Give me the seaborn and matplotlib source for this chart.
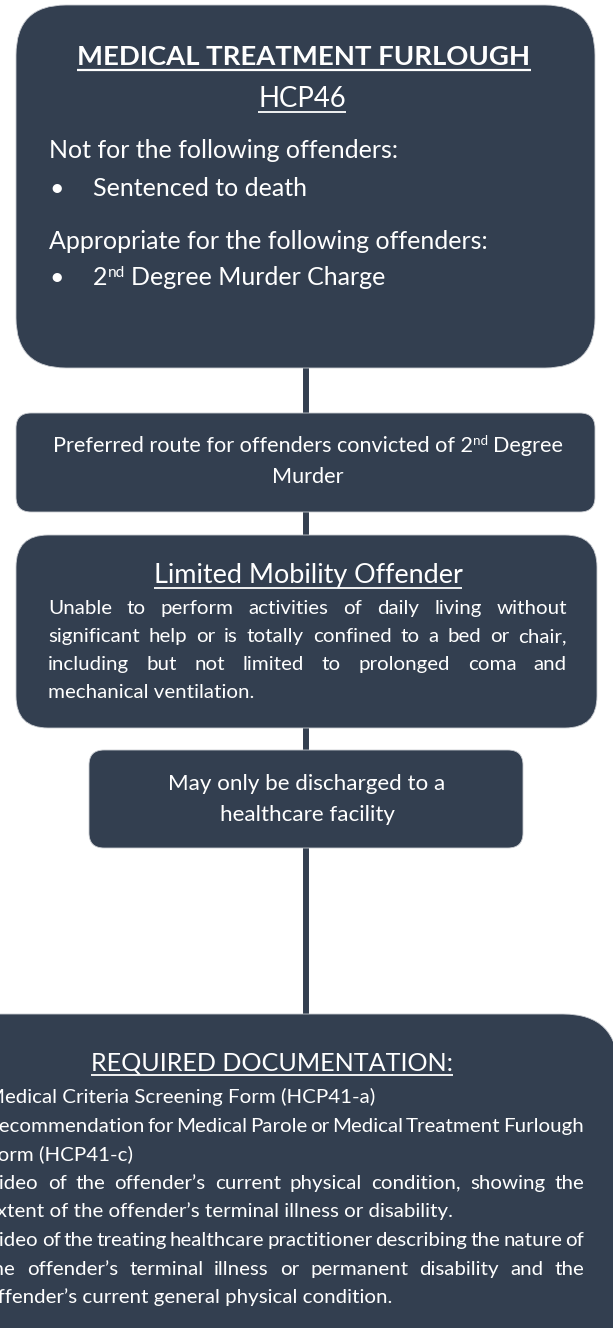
import matplotlib
matplotlib.use("Agg")
import matplotlib.pyplot as plt
from matplotlib.patches import FancyBboxPatch
import seaborn as sns

# ------------------------------
# Content of the flowchart
# ------------------------------
HEADER_TITLE = "MEDICAL TREATMENT FURLOUGH"
HEADER_CODE = "HCP46"
EXCLUDED_LABEL = "Not for the following offenders:"
EXCLUDED = ["Sentenced to death"]
APPROPRIATE_LABEL = "Appropriate for the following offenders:"
APPROPRIATE = [[("2", False), ("nd", True), (" Degree Murder Charge", False)]]

ROUTE_TEXT = [
    [("Preferred route for offenders convicted of 2", False), ("nd", True), (" Degree", False)],
    [("Murder", False)],
]

MOBILITY_TITLE = "Limited Mobility Offender"
MOBILITY_TEXT = [
    "Unable to perform activities of daily living without",
    "significant help or is totally confined to a bed or chair,",
    "including but not limited to prolonged coma and",
    "mechanical ventilation.",
]
MOBILITY_JUSTIFY = [True, True, True, False]

DISCHARGE_TEXT = ["May only be discharged to a", "healthcare facility"]

DOCS_TITLE = "REQUIRED DOCUMENTATION:"
DOCS_TEXT = [
    "Medical Criteria Screening Form (HCP41-a)",
    "Recommendation for Medical Parole or Medical Treatment Furlough",
    "Form (HCP41-c)",
    "Video of the offender\u2019s current physical condition, showing the",
    "extent of the offender\u2019s terminal illness or disability.",
    "Video of the treating healthcare practitioner describing the nature of",
    "the offender\u2019s terminal illness or permanent disability and the",
    "offender\u2019s current general physical condition.",
]
DOCS_JUSTIFY = [False, True, False, True, False, True, True, False]

# ------------------------------
# Layout (pixels, y down)
# ------------------------------
W, H = 613, 1328
NAVY = "#333F50"
INK = "#FFFFFF"
SUP = 0.62

# (left, top, right, bottom, corner radius)
boxes = [
    (16, 5, 595, 368, 50),
    (16, 413, 595, 512, 15),
    (16, 535, 597, 728, 32),
    (89, 750, 523, 848, 15),
    (-60, 1014, 618, 1420, 55),
]

sns.set_theme(style="white")
plt.rcParams["font.family"] = ["Lato", "DejaVu Sans"]

fig = plt.figure(figsize=(W / 100, H / 100), dpi=100)
ax = fig.add_axes([0, 0, 1, 1])
ax.set_xlim(0, W)
ax.set_ylim(H, 0)
ax.set_axis_off()
R = fig.canvas.get_renderer()


def width(s, size, weight="normal"):
    t = ax.text(0, 0, s, fontsize=size, fontweight=weight)
    w = t.get_window_extent(R).width
    t.remove()
    return w


def fit(s, target, weight="normal"):
    return 20 * target / width(s, 20, weight)


def draw_runs(parts, x, y, size, ha="left", weight="normal"):
    sp = width("a a", size, weight) - width("aa", size, weight)
    items = []
    for txt, sup in parts:
        s = size * SUP if sup else size
        gap = sp if txt.startswith(" ") else 0
        txt = txt.strip()
        items.append((txt, s, sup, gap, width(txt, s, weight)))
    total = sum(g + w for _, _, _, g, w in items)
    if ha == "center":
        x -= total / 2
    x0 = x
    for txt, s, sup, gap, w in items:
        x += gap
        dy = size * 100 / 72 * 0.34 if sup else 0
        ax.text(x, y - dy, txt, fontsize=s, fontweight=weight, color=INK,
                ha="left", va="baseline")
        x += w
    return x0, x


def underline(x0, x1, y, lw=1.2):
    ax.plot([x0, x1], [y, y], color=INK, lw=lw, solid_capstyle="butt")


def justify(line, x0, x1, y, size):
    words = line.split()
    ws = [width(w, size) for w in words]
    gap = (x1 - x0 - sum(ws)) / (len(words) - 1)
    x = x0
    for w, wd in zip(words, ws):
        ax.text(x, y, w, fontsize=size, color=INK, ha="left", va="baseline")
        x += wd + gap


# connector behind the boxes
cx = 306
ax.plot([cx, cx], [boxes[0][3], boxes[-1][1]], color=NAVY, lw=4.3, zorder=0)

for l, t, r, b, rad in boxes:
    ax.add_patch(FancyBboxPatch((l, t), r - l, b - t,
                                boxstyle=f"round,pad=0,rounding_size={rad}",
                                fc=NAVY, ec="#c9ccd1", lw=0.6, zorder=1))

# ---- header box ----
s_title = fit(HEADER_TITLE, 452, "bold")
a, b = draw_runs([(HEADER_TITLE, False)], 304, 65, s_title, "center", "bold")
underline(a, b, 70, 1.6)
s_code = fit(HEADER_CODE, 88)
a, b = draw_runs([(HEADER_CODE, False)], 302, 107, s_code, "center")
underline(a, b, 112, 1.3)

s_body1 = fit(APPROPRIATE_LABEL, 440)
draw_runs([(EXCLUDED_LABEL, False)], 49, 158, s_body1)
for i, item in enumerate(EXCLUDED):
    ax.text(57, 196 + i * 38, "\u2022", fontsize=s_body1, color=INK, ha="center", va="baseline")
    draw_runs([(item, False)], 93, 196 + i * 38, s_body1)
draw_runs([(APPROPRIATE_LABEL, False)], 49, 249, s_body1)
for i, item in enumerate(APPROPRIATE):
    ax.text(57, 285 + i * 38, "\u2022", fontsize=s_body1, color=INK, ha="center", va="baseline")
    draw_runs(item, 93, 285 + i * 38, s_body1)

# ---- route box ----
full = ROUTE_TEXT[0]
probe = sum(width(t.strip(), 20 * (SUP if s else 1)) for t, s in full) + 2 * (width("a a", 20) - width("aa", 20))
s_route = 20 * 516 / probe
for i, line in enumerate(ROUTE_TEXT):
    draw_runs(line, 308, 452 + i * 31, s_route, "center")

# ---- mobility box ----
s_mtitle = fit(MOBILITY_TITLE, 311)
a, b = draw_runs([(MOBILITY_TITLE, False)], 308, 583, s_mtitle, "center")
underline(a, b, 588, 1.3)
s_small = fit(MOBILITY_TEXT[-1], 206)
for i, (line, j) in enumerate(zip(MOBILITY_TEXT, MOBILITY_JUSTIFY)):
    y = 614 + i * 28
    if j:
        justify(line, 48, 567, y, s_small)
    else:
        draw_runs([(line, False)], 48, y, s_small)

# ---- discharge box ----
s_dis = fit(DISCHARGE_TEXT[0], 276)
for i, line in enumerate(DISCHARGE_TEXT):
    draw_runs([(line, False)], 307, 790 + i * 31, s_dis, "center")

# ---- documentation box ----
s_dtitle = fit(DOCS_TITLE, 362)
a, b = draw_runs([(DOCS_TITLE, False)], 272, 1070, s_dtitle, "center")
underline(a, b, 1075, 1.3)
for i, (line, j) in enumerate(zip(DOCS_TEXT, DOCS_JUSTIFY)):
    y = 1103 + i * 28.6
    if j:
        justify(line, -14, 584, y, s_small)
    else:
        draw_runs([(line, False)], -14, y, s_small)

fig.savefig("out.png", dpi=100, facecolor="white")
